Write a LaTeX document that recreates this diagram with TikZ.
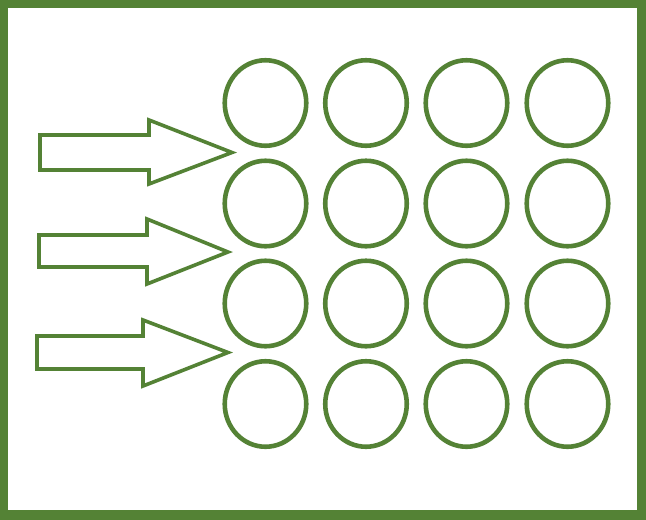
\documentclass[tikz,border=0pt]{standalone}
\usetikzlibrary{shapes.geometric}
\definecolor{grn}{HTML}{548235}
\tikzset{
  dot/.style={draw=grn, line width=4.6pt, ellipse, minimum width=81.5pt, minimum height=85.5pt, inner sep=0pt},
  blockarrow/.style={draw=grn, line width=3.6pt, fill=white, line join=miter}
}
\begin{document}
\begin{tikzpicture}[x=1pt,y=-1pt]
\useasboundingbox (0,0) rectangle (646,520);
\fill[grn] (0,0) rectangle (646,520);
\fill[white] (8,8) rectangle (637,510);
% circles
\foreach \r/\y in {1/103,2/203.5,3/303.5,4/404}{
  \foreach \c/\x in {1/265.5,2/366,3/466.5,4/567.5}{
    \node[dot] (c\r\c) at (\x,\y) {};
  }
}
% block arrows
\draw[blockarrow] (40,135) -- (149,135) -- (149,120) -- (232,152.5) -- (149,184) -- (149,170) -- (40,170) -- cycle;
\draw[blockarrow] (39,235) -- (147,235) -- (147,219) -- (228,252) -- (147,284) -- (147,267) -- (39,267) -- cycle;
\draw[blockarrow] (37,336) -- (143,336) -- (143,320) -- (228,352.5) -- (143,386) -- (143,369) -- (37,369) -- cycle;
\end{tikzpicture}
\end{document}
